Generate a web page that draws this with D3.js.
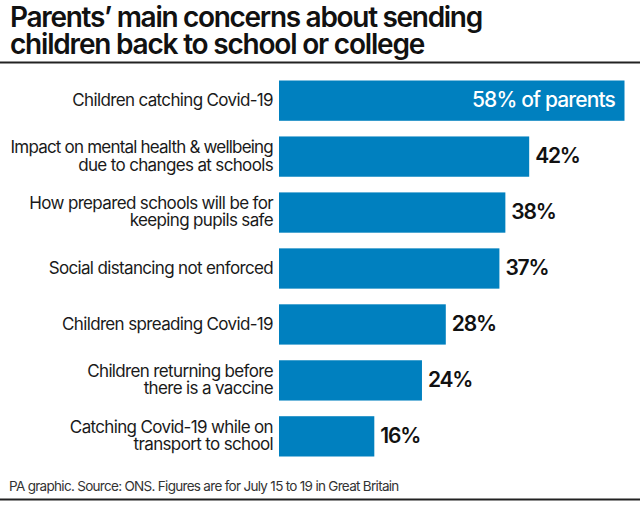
<!DOCTYPE html>
<html><head><meta charset="utf-8">
<script src="https://cdn.jsdelivr.net/npm/d3@7/dist/d3.min.js"></script>
<style>html,body{margin:0;padding:0;background:#fff}svg{display:block}text{font-family:Inter,sans-serif}</style>
</head><body><svg id="c" width="640" height="506"></svg>
<script>
const categories=[["Children catching Covid-19"],["Impact on mental health & wellbeing","due to changes at schools"],["How prepared schools will be for","keeping pupils safe"],["Social distancing not enforced"],["Children spreading Covid-19"],["Children returning before","there is a vaccine"],["Catching Covid-19 while on","transport to school"]];
const values=[58,42,38,37,28,24,16];
const valueLabels=["58% of parents","42%","38%","37%","28%","24%","16%"];
const titleLines=["Parents’ main concerns about sending","children back to school or college"];
const source="PA graphic. Source: ONS. Figures are for July 15 to 19 in Great Britain";
const svg=d3.select("#c");
const x=d3.scaleLinear().domain([0,58]).range([279,624.5]);
const y=d3.scaleBand().domain(d3.range(values.length)).range([80.5,456.5]).paddingInner(0.28).paddingOuter(0);
svg.selectAll(".t").data(titleLines).join("text").attr("x",10).attr("y",(d,i)=>27+i*26.5)
 .attr("font-size",28).attr("font-weight",600).attr("letter-spacing",(d,i)=>i?-1.2:-1.3).attr("fill","#111").text(d=>d);
svg.selectAll(".r").data([62.5,499.5]).join("rect").attr("x",0).attr("width",640).attr("y",d=>d-1).attr("height",2).attr("fill","#222");
svg.selectAll(".b").data(values).join("rect").attr("x",x(0)).attr("y",(d,i)=>y(i)).attr("width",d=>x(d)-x(0)).attr("height",y.bandwidth()).attr("fill","#0080bf");
categories.forEach((lines,i)=>{
 const cy=y(i)+y.bandwidth()/2;
 svg.selectAll(null).data(lines).join("text").attr("x",273).attr("text-anchor","end")
  .attr("y",(d,j)=>cy+5.2+(j-(lines.length-1)/2)*17.5).attr("font-size",17)
  .attr("letter-spacing",d=>d.includes("&")?-0.8:-0.65).attr("fill","#1a1a1a").text(d=>d);
});
svg.selectAll(".v").data(values).join("text")
 .attr("x",(d,i)=>i===0?x(d)-9.5:x(d)+6).attr("text-anchor",(d,i)=>i===0?"end":"start")
 .attr("y",(d,i)=>y(i)+y.bandwidth()/2+6.8).attr("font-size",21).attr("font-weight",(d,i)=>i===0?500:600)
 .attr("letter-spacing",(d,i)=>i===0?-0.85:-1.2).attr("fill",(d,i)=>i===0?"#fff":"#111").text((d,i)=>valueLabels[i]);
svg.append("text").attr("x",9).attr("y",491).attr("font-size",13.5).attr("letter-spacing",-0.7).attr("fill","#333").text(source);
</script></body></html>
